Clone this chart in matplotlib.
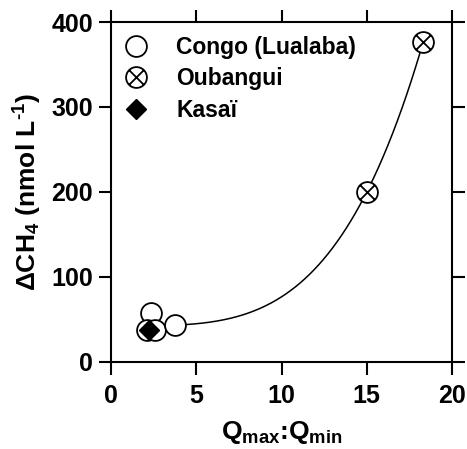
import numpy as np
import matplotlib
matplotlib.use("Agg")
import matplotlib.pyplot as plt
from matplotlib.path import Path

plt.rcParams['font.family'] = ['Liberation Sans', 'DejaVu Sans']
plt.rcParams['font.weight'] = 'bold'
plt.rcParams['mathtext.fontset'] = 'custom'
plt.rcParams['mathtext.rm'] = 'Liberation Sans:bold'
plt.rcParams['mathtext.bf'] = 'Liberation Sans:bold'
plt.rcParams['mathtext.it'] = 'Liberation Sans:bold'
plt.rcParams['mathtext.default'] = 'bf'

# discharge ratio vs CH4 excess
congo_q = [2.33, 2.09, 2.58, 3.75]
congo_ch4 = [57.6, 37.6, 37.6, 43.5]
oubangui_q = [15.0, 18.3]
oubangui_ch4 = [200.0, 376.0]
kasai_q = [2.25]
kasai_ch4 = [37.6]

xticks = [0, 5, 10, 15, 20]
yticks = [0, 100, 200, 300, 400]

# fit y = a + b*x^n over all points
allx = np.array(congo_q + oubangui_q + kasai_q)
ally = np.array(congo_ch4 + oubangui_ch4 + kasai_ch4)
best = None
for n in np.linspace(1.5, 6, 451):
    A = np.column_stack([np.ones_like(allx), allx ** n])
    coef, res, _, _ = np.linalg.lstsq(A, ally, rcond=None)
    sse = np.sum((A @ coef - ally) ** 2)
    if best is None or sse < best[0]:
        best = (sse, n, coef)
_, n_fit, (a_fit, b_fit) = best
xf = np.linspace(allx.min(), allx.max(), 300)
yf = a_fit + b_fit * xf ** n_fit

# circle with a cross inside
circ = Path.unit_circle()
d = np.sqrt(0.5)
verts = list(circ.vertices) + [(-d, -d), (d, d), (-d, d), (d, -d)]
codes = list(circ.codes) + [Path.MOVETO, Path.LINETO, Path.MOVETO, Path.LINETO]
cross_circle = Path(verts, codes)

fig = plt.figure(figsize=(4.67, 4.49), dpi=100)
ax = fig.add_axes([0.2377, 0.1938, 0.7303, 0.7572])

ax.plot(xf, yf, color='black', lw=1.1, zorder=2)
ax.plot(congo_q, congo_ch4, 'o', ms=15, mfc='white', mec='black', mew=1.3,
        ls='none', label='Congo (Lualaba)', zorder=3)
ax.plot(oubangui_q, oubangui_ch4, marker=cross_circle, ms=15, mfc='white',
        mec='black', mew=1.3, ls='none', label='Oubangui', zorder=3)
ax.plot(kasai_q, kasai_ch4, 'D', ms=10, color='black', ls='none',
        label='Kasaï', zorder=4)

ax.set_xlim(0, 20)
ax.set_ylim(0, 400)
ax.set_xticks(xticks)
ax.set_yticks(yticks)
ax.tick_params(direction='out', length=9, width=1.5, labelsize=18,
               top=True, right=True)
ax.tick_params(axis='x', pad=7)
ax.tick_params(axis='y', pad=4)
for s in ax.spines.values():
    s.set_linewidth(1.5)

ax.set_xlabel(r'Q$_{\mathbf{max}}$:Q$_{\mathbf{min}}$', fontsize=19, fontweight='bold', labelpad=8)
ax.set_ylabel(r'$\Delta$CH$_4$ (nmol L$^{\text{-}1}$)', fontsize=19, fontweight='bold', labelpad=5)

ax.legend(loc='upper left', frameon=False, fontsize=16.5, handletextpad=1.25,
          labelspacing=0.38, borderaxespad=0.3, borderpad=0.3, handlelength=1.0)

fig.savefig('out.png', dpi=100)
